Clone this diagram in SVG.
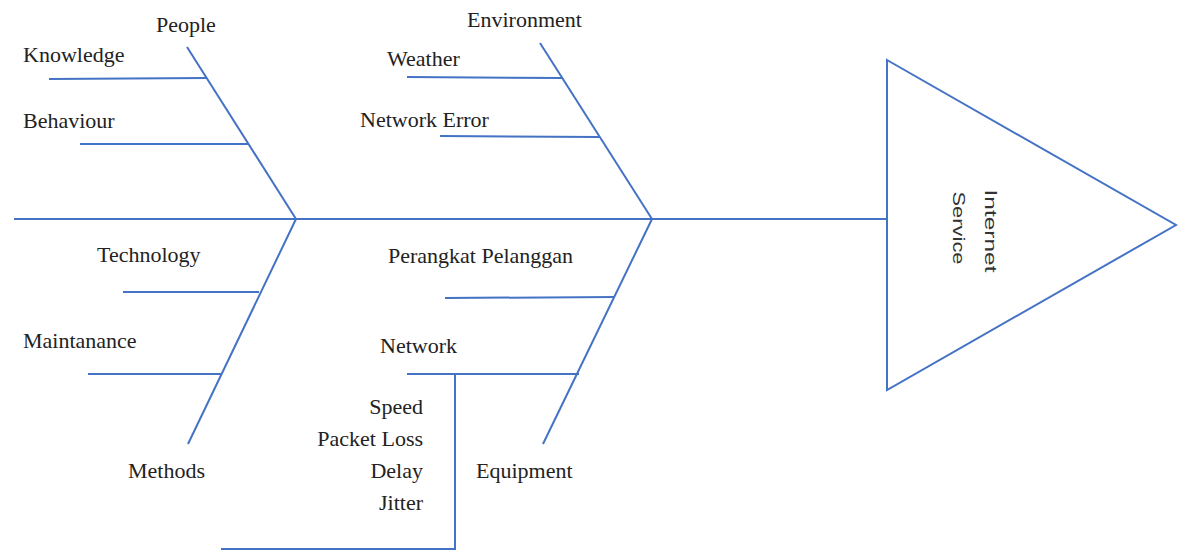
<svg xmlns="http://www.w3.org/2000/svg" width="1178" height="551" viewBox="0 0 1178 551">
<style>
.ln{stroke:#4472C4;stroke-width:2;fill:none;stroke-linecap:butt}
.t{font-family:'Liberation Serif','Times New Roman','DejaVu Serif',serif;font-size:22px;fill:#222}
.s{font-family:'Liberation Sans',Arial,sans-serif;font-size:17px;fill:#333}
</style>
<rect width="1178" height="551" fill="#fff"/>
<g id="connectors">
<line class="ln" x1="14" y1="219" x2="887" y2="219"/>
<line class="ln" x1="187" y1="47" x2="296" y2="219"/>
<line class="ln" x1="49" y1="79" x2="207" y2="78"/>
<line class="ln" x1="80" y1="144" x2="248" y2="144"/>
<line class="ln" x1="540" y1="43" x2="652" y2="219"/>
<line class="ln" x1="407" y1="77" x2="562" y2="78"/>
<line class="ln" x1="440" y1="136" x2="599" y2="137"/>
<line class="ln" x1="296" y1="219" x2="188" y2="444"/>
<line class="ln" x1="123" y1="292" x2="259" y2="292"/>
<line class="ln" x1="88" y1="374" x2="222" y2="374"/>
<line class="ln" x1="652" y1="219" x2="543" y2="444"/>
<line class="ln" x1="445" y1="298" x2="615" y2="297"/>
<line class="ln" x1="407" y1="374" x2="579" y2="374"/>
<polyline class="ln" points="455,374 455,549 221,549"/>
</g>
<g id="effect">
<polygon class="ln" points="887,60 1176,225 887,390"/>
<text class="s" transform="translate(985,231) rotate(90)" text-anchor="middle" textLength="83" lengthAdjust="spacingAndGlyphs">Internet</text>
<text class="s" transform="translate(953,228) rotate(90)" text-anchor="middle" textLength="73" lengthAdjust="spacingAndGlyphs">Service</text>
</g>
<g id="people">
<text class="t" x="156" y="32">People</text>
<text class="t" x="23" y="62">Knowledge</text>
<text class="t" x="23" y="128">Behaviour</text>
</g>
<g id="environment">
<text class="t" x="467" y="27">Environment</text>
<text class="t" x="387" y="66">Weather</text>
<text class="t" x="360" y="127">Network Error</text>
</g>
<g id="methods">
<text class="t" x="97" y="262">Technology</text>
<text class="t" x="23" y="348">Maintanance</text>
<text class="t" x="128" y="478">Methods</text>
</g>
<g id="equipment">
<text class="t" x="388" y="263">Perangkat Pelanggan</text>
<text class="t" x="380" y="353">Network</text>
<text class="t" x="476" y="478">Equipment</text>
</g>
<g id="network-metrics">
<text class="t" x="423" y="414" text-anchor="end">Speed</text>
<text class="t" x="423" y="446" text-anchor="end">Packet Loss</text>
<text class="t" x="423" y="478" text-anchor="end">Delay</text>
<text class="t" x="423" y="510" text-anchor="end">Jitter</text>
</g>
</svg>
